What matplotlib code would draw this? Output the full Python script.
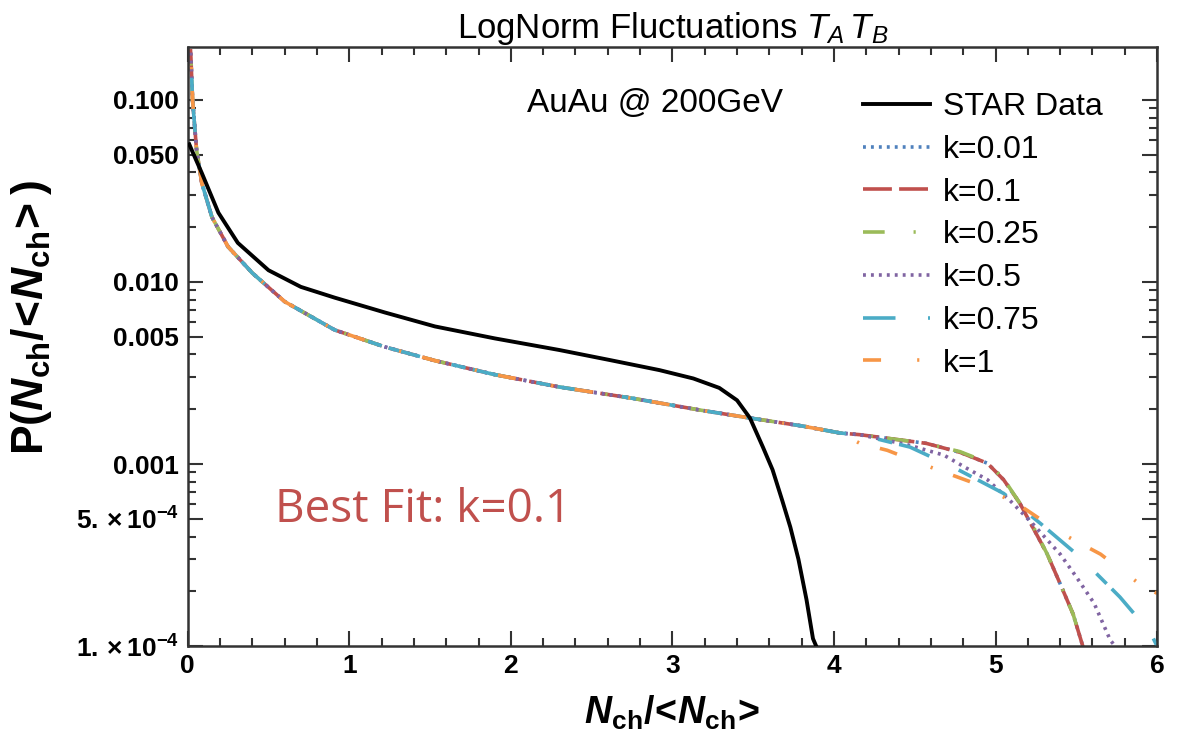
import matplotlib
matplotlib.use('Agg')
import matplotlib.pyplot as plt
from matplotlib.ticker import FixedLocator, FixedFormatter, NullFormatter

plt.rcParams['font.family'] = ['Liberation Sans', 'DejaVu Sans']
plt.rcParams['mathtext.fontset'] = 'custom'
plt.rcParams['mathtext.rm'] = 'Liberation Sans'
plt.rcParams['mathtext.it'] = 'Liberation Sans:italic'
plt.rcParams['mathtext.bf'] = 'Liberation Sans:bold'
plt.rcParams['mathtext.bfit'] = 'Liberation Sans:italic:bold'

# STAR data
star_x = [0.01, 0.025, 0.087, 0.19, 0.31, 0.5, 0.7, 0.91, 1.22, 1.53, 1.9,
          2.3, 2.61, 2.92, 3.13, 3.29, 3.40, 3.48, 3.56, 3.62, 3.68, 3.73,
          3.78, 3.83, 3.87, 3.89]
star_y = [0.057, 0.053, 0.0397, 0.024, 0.0164, 0.0116, 0.0094, 0.0082,
          0.0068, 0.0057, 0.0049, 0.00423, 0.00373, 0.00328, 0.00295,
          0.00262, 0.00224, 0.00179, 0.00124, 0.00093, 0.00063, 0.00045,
          0.0003, 0.00018, 0.00011, 0.0001]

# model curves: common body up to x~4, then each k has its own tail
body_x = [0.005, 0.02, 0.03, 0.055, 0.087, 0.15, 0.25, 0.4, 0.6, 0.91, 1.22,
          1.53, 1.9, 2.3, 2.75, 3.17, 3.48, 3.8, 4.04]
body_y = [0.3, 0.17, 0.10, 0.053, 0.035, 0.0227, 0.0156, 0.0112, 0.0078,
          0.00545, 0.0044, 0.0037, 0.0031, 0.00265, 0.0023, 0.00198,
          0.00179, 0.00162, 0.00148]

tail_x = {
    'k=0.01': [4.16, 4.57, 4.78, 4.95, 5.05, 5.15, 5.23, 5.32, 5.40, 5.48,
               5.54, 5.58],
    'k=0.1': [4.16, 4.57, 4.78, 4.95, 5.05, 5.15, 5.23, 5.32, 5.40, 5.48,
              5.54, 5.58],
    'k=0.25': [4.16, 4.57, 4.78, 4.95, 5.05, 5.15, 5.23, 5.32, 5.40, 5.48,
               5.54, 5.58],
    'k=0.5': [4.16, 4.45, 4.68, 4.82, 4.95, 5.09, 5.23, 5.40, 5.50, 5.61,
              5.71, 5.74],
    'k=0.75': [4.16, 4.47, 4.74, 5.05, 5.28, 5.52, 5.77, 5.96, 6.0],
    'k=1': [4.16, 4.33, 4.60, 4.86, 5.13, 5.40, 5.65, 5.89, 6.0],
}
tail_y = {
    'k=0.01': [0.00145, 0.0013, 0.00116, 0.00101, 0.00082, 0.00061, 0.00045,
               0.00032, 0.00022, 0.00015, 0.0001, 0.00008],
    'k=0.1': [0.00145, 0.0013, 0.00116, 0.00101, 0.00082, 0.00061, 0.00045,
              0.00032, 0.00022, 0.00015, 0.0001, 0.00008],
    'k=0.25': [0.00145, 0.0013, 0.00117, 0.00102, 0.00083, 0.00061, 0.00046,
               0.00032, 0.00022, 0.00015, 0.0001, 0.00008],
    'k=0.5': [0.00145, 0.00128, 0.00112, 0.00095, 0.00082, 0.00063, 0.00047,
              0.00032, 0.00024, 0.000172, 0.000108, 0.0001],
    'k=0.75': [0.00145, 0.00124, 0.00096, 0.00069, 0.00047, 0.00031,
               0.000186, 0.000118, 0.0001],
    'k=1': [0.0013, 0.00119, 0.00096, 0.00079, 0.00061, 0.00042, 0.00032,
            0.00022, 0.000195],
}

labels = ['k=0.01', 'k=0.1', 'k=0.25', 'k=0.5', 'k=0.75', 'k=1']
colors = ['#4F81BD', '#C0504D', '#9BBB59', '#8064A2', '#4BACC6', '#F79646']
styles = [(0, (0.8, 1.4)), (0, (8, 2)), (0, (6, 8, 0.6, 4)),
          (0, (0.8, 1.4)), (0, (9, 9, 4, 2)), (0, (5, 10, 0.6, 6))]

ytick_vals = [1e-4, 5e-4, 1e-3, 5e-3, 1e-2, 5e-2, 1e-1]
ytick_text = [r'$\mathbf{1.\times10^{-4}}$', r'$\mathbf{5.\times10^{-4}}$',
              '0.001', '0.005', '0.010', '0.050', '0.100']

fig = plt.figure(figsize=(11.88, 7.47), dpi=100)
ax = fig.add_axes([0.158, 0.135, 0.816, 0.802])

ax.plot(star_x, star_y, color='black', lw=2.8, label='STAR Data', zorder=5)
for lab, col, ls in zip(labels, colors, styles):
    xs = body_x + tail_x[lab]
    ys = body_y + tail_y[lab]
    ax.plot(xs, ys, color=col, lw=2.6, linestyle=ls, label=lab)

ax.set_yscale('log')
ax.set_xlim(0, 6)
ax.set_ylim(1e-4, 0.195)

ax.yaxis.set_major_locator(FixedLocator(ytick_vals))
ax.yaxis.set_major_formatter(FixedFormatter(ytick_text))
minor = [m * 10.0 ** e for e in range(-4, 0) for m in range(2, 10) if m != 5]
ax.yaxis.set_minor_locator(FixedLocator(minor))
ax.yaxis.set_minor_formatter(NullFormatter())
ax.set_xticks(range(0, 7))
ax.set_xticks([i * 0.2 for i in range(31)], minor=True)

ax.tick_params(which='both', direction='in', top=True, right=True,
               color='#333333', width=1.5)
ax.tick_params(which='major', length=11, labelsize=19, pad=6)
ax.tick_params(which='minor', length=6)
for lbl in ax.get_xticklabels() + ax.get_yticklabels():
    lbl.set_fontweight('bold')
for sp in ax.spines.values():
    sp.set_linewidth(1.8)
    sp.set_color('#333333')

ax.set_xlabel(r'$\mathbfit{N}_{\mathbf{ch}}\mathbf{/}\!\mathbf{<}\!\mathbfit{N}_{\mathbf{ch}}\!\mathbf{>}$',
              fontsize=27, labelpad=11)
ax.set_ylabel(r'$\mathbf{P(}\mathbfit{N}_{\mathbf{ch}}\mathbf{/}\!\mathbf{<}\!\mathbfit{N}_{\mathbf{ch}}\!\mathbf{>)}$',
              fontsize=32)
ax.yaxis.set_label_coords(-0.138, 0.548)
ax.set_title(r'LogNorm Fluctuations $T_A\,T_B$', fontsize=25, pad=6)

ax.text(0.35, 0.905, 'AuAu @ 200GeV', transform=ax.transAxes,
        fontsize=24, va='center', ha='left')
ax.text(0.09, 0.227, 'Best Fit: k=0.1', transform=ax.transAxes,
        fontsize=33, color='#C0504D', family='Open Sans', va='center',
        ha='left')

ax.legend(loc='upper left', bbox_to_anchor=(0.697, 0.925), frameon=False,
          fontsize=23, handlelength=2.1, handletextpad=0.4, labelspacing=0.4,
          borderaxespad=0, borderpad=0)

fig.savefig('out.png', dpi=100)
